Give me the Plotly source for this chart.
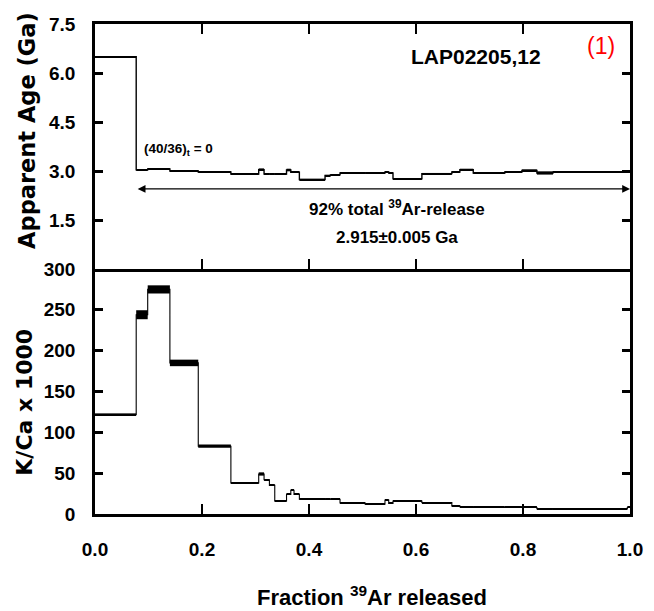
import plotly.graph_objects as go

# ---- data ----
step_edges = [0.0, 0.077, 0.0985, 0.140, 0.193, 0.254, 0.306, 0.316, 0.326, 0.336,
              0.358, 0.366, 0.372, 0.382, 0.430, 0.440, 0.458, 0.505, 0.542, 0.549,
              0.557, 0.611, 0.667, 0.682, 0.707, 0.766, 0.798, 0.826, 0.856, 0.995, 1.0]
age_ga = [6.50, 3.04, 3.06, 3.00, 2.97, 2.91, 3.04, 2.91, 2.91, 2.91,
          3.03, 2.96, 2.96, 2.74, 2.86, 2.88, 2.94, 2.94, 2.97, 2.94,
          2.76, 2.92, 2.97, 3.04, 2.94, 2.97, 3.02, 2.94, 2.96, 2.98]
age_err = [0.02, 0.02, 0.02, 0.02, 0.02, 0.02, 0.04, 0.02, 0.02, 0.02,
           0.04, 0.02, 0.02, 0.02, 0.02, 0.02, 0.02, 0.02, 0.03, 0.02,
           0.02, 0.02, 0.02, 0.03, 0.02, 0.02, 0.03, 0.05, 0.02, 0.02]
kca_x1000 = [122, 244, 275, 185, 83, 38, 49, 42, 35, 16,
             24, 29, 24, 18, 18, 18, 13.5, 12, 17, 13,
             16, 14, 10, 9, 8, 8, 8, 6.5, 6.5, 8]
kca_err = [1.2, 5.5, 5.0, 4.0, 2.0, 0.8, 2.0, 0.6, 0.6, 0.6,
           0.6, 0.6, 0.6, 0.6, 0.6, 0.6, 0.6, 0.6, 0.6, 0.6,
           0.6, 0.6, 0.6, 0.6, 0.6, 0.6, 0.6, 0.6, 0.6, 0.6]

x_ticks = [0.0, 0.2, 0.4, 0.6, 0.8, 1.0]
x_tick_labels = ["0.0", "0.2", "0.4", "0.6", "0.8", "1.0"]
age_ticks = [1.5, 3.0, 4.5, 6.0, 7.5]
age_tick_labels = ["1.5", "3.0", "4.5", "6.0", "7.5"]
kca_ticks = [0, 50, 100, 150, 200, 250, 300]
kca_tick_labels = ["0", "50", "100", "150", "200", "250", "300"]

plateau_start = 0.077
plateau_end = 1.0
plateau_arrow_y = 2.45

SANS = "Liberation Sans Narrow, Arial Narrow, Liberation Sans, Arial, sans-serif"
WIDE = "DejaVu Sans, Verdana, sans-serif"

mids = [(a + b) / 2 for a, b in zip(step_edges[:-1], step_edges[1:])]
widths = [b - a for a, b in zip(step_edges[:-1], step_edges[1:])]

fig = go.Figure()

# age spectrum error boxes
fig.add_trace(go.Bar(
    x=mids, width=widths, base=[v - e for v, e in zip(age_ga, age_err)],
    y=[2 * e for e in age_err], marker=dict(color="black", line=dict(width=0)),
    xaxis="x2", yaxis="y2", hoverinfo="skip", showlegend=False))
# age spectrum step line
fig.add_trace(go.Scatter(
    x=step_edges, y=age_ga + [age_ga[-1]], mode="lines",
    line=dict(color="black", width=1.4, shape="hv"),
    xaxis="x2", yaxis="y2", showlegend=False))

# K/Ca error boxes
fig.add_trace(go.Bar(
    x=mids, width=widths, base=[v - e for v, e in zip(kca_x1000, kca_err)],
    y=[2 * e for e in kca_err], marker=dict(color="black", line=dict(width=0)),
    xaxis="x", yaxis="y", hoverinfo="skip", showlegend=False))
fig.add_trace(go.Scatter(
    x=step_edges, y=kca_x1000 + [kca_x1000[-1]], mode="lines",
    line=dict(color="black", width=1.1, shape="hv"),
    xaxis="x", yaxis="y", showlegend=False))

tickfont = dict(family=SANS, size=19, color="black", weight="bold")

# page body adds an 8px offset, so the figure is sized/margined to compensate
fig.update_layout(
    width=646, height=603,
    margin=dict(l=87, r=24, t=16, b=97),
    paper_bgcolor="white", plot_bgcolor="white",
    barmode="overlay", showlegend=False,
    xaxis=dict(domain=[0, 1], anchor="y", range=[0, 1], showline=True, linewidth=3,
               linecolor="black", mirror=False, ticks="inside", ticklen=10, tickwidth=2,
               tickcolor="black", tickvals=x_ticks, ticktext=x_tick_labels,
               tickfont=tickfont, showgrid=False, zeroline=False, ticklabelstandoff=16,
               automargin=False),
    yaxis=dict(domain=[0, 0.5], anchor="x", range=[0, 300], showline=True, linewidth=2.5,
               linecolor="black", mirror="ticks", ticks="inside", ticklen=8, tickwidth=2.5,
               tickcolor="black", tickvals=kca_ticks, ticktext=kca_tick_labels,
               tickfont=tickfont, showgrid=False, zeroline=False, ticklabelstandoff=13,
               automargin=False),
    xaxis2=dict(domain=[0, 1], anchor="y2", range=[0, 1], showline=True, linewidth=2.5,
                linecolor="black", mirror="ticks", ticks="inside", ticklen=10, tickwidth=2,
                tickcolor="black", tickvals=x_ticks, showticklabels=False,
                showgrid=False, zeroline=False, automargin=False),
    yaxis2=dict(domain=[0.5, 1], anchor="x2", range=[0, 7.5], showline=True, linewidth=2.5,
                linecolor="black", mirror="ticks", ticks="inside", ticklen=8, tickwidth=2.5,
                tickcolor="black", tickvals=age_ticks, ticktext=age_tick_labels,
                tickfont=tickfont, showgrid=False, zeroline=False, ticklabelstandoff=13,
                automargin=False),
)

ann = []
# plateau arrow
ann.append(dict(xref="x2", yref="y2", axref="x2", ayref="y2",
                x=plateau_end, y=plateau_arrow_y, ax=plateau_start, ay=plateau_arrow_y,
                text="", showarrow=True, arrowside="end+start",
                arrowhead=2, startarrowhead=2, arrowsize=1.3, startarrowsize=1.3,
                arrowwidth=1.2, arrowcolor="black"))
ann.append(dict(xref="x2", yref="y2", x=0.565, y=1.86, xanchor="center", yanchor="middle",
                text="92% total <sup>39</sup>Ar-release", showarrow=False,
                font=dict(family=SANS, size=17, color="black", weight="bold")))
ann.append(dict(xref="x2", yref="y2", x=0.565, y=0.96, xanchor="center", yanchor="middle",
                text="2.915±0.005 Ga", showarrow=False,
                font=dict(family=SANS, size=17, color="black", weight="bold")))
ann.append(dict(xref="x2", yref="y2", x=0.088, y=3.65, xanchor="left", yanchor="middle",
                text="(40/36)<sub>t</sub> = 0", showarrow=False,
                font=dict(family=SANS, size=13.5, color="black", weight="bold")))
ann.append(dict(xref="x2", yref="y2", x=0.712, y=6.5, xanchor="center", yanchor="middle",
                text="LAP02205,12", showarrow=False,
                font=dict(family=SANS, size=21, color="black", weight="bold")))
ann.append(dict(xref="x2", yref="y2", x=0.946, y=6.83, xanchor="center", yanchor="middle",
                text="(1)", showarrow=False,
                font=dict(family=SANS, size=23, color="#ff0000")))
# axis titles
ann.append(dict(xref="paper", yref="paper", x=-0.127, y=0.782, textangle=-90,
                xanchor="center", yanchor="middle",
                text="Apparent Age (Ga)", showarrow=False,
                font=dict(family=WIDE, size=22.5, color="black", weight="bold")))
ann.append(dict(xref="paper", yref="paper", x=-0.131, y=0.229, textangle=-90,
                xanchor="center", yanchor="middle",
                text="K/Ca x 1000", showarrow=False,
                font=dict(family=WIDE, size=22, color="black", weight="bold")))
ann.append(dict(xref="paper", yref="paper", x=0.518, y=-0.167,
                xanchor="center", yanchor="middle",
                text="Fraction <sup>39</sup>Ar released", showarrow=False,
                font=dict(family=SANS, size=22, color="black", weight="bold")))
fig.update_layout(annotations=ann)

fig.write_html("out.html")
